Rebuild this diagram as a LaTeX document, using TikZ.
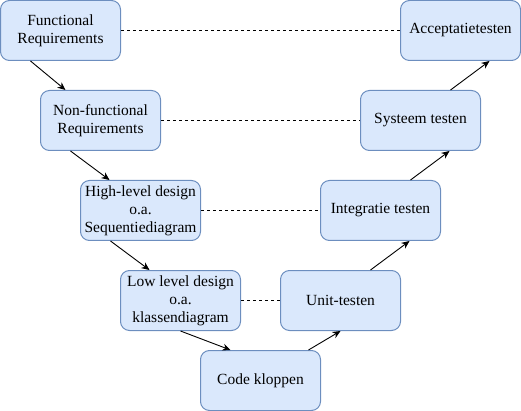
\documentclass[tikz,border=0pt]{standalone}
\usepackage{fontspec}
\setmainfont{Liberation Serif}
\usetikzlibrary{arrows.meta}
\definecolor{boxfill}{HTML}{DAE8FC}
\definecolor{boxline}{HTML}{6C8EBF}
\begin{document}
\begin{tikzpicture}[x=1pt,y=-1pt,
  stagebox/.style={draw=boxline,fill=boxfill,line width=1pt,rounded corners=9pt,
    minimum width=120pt,minimum height=60pt,inner sep=1pt,align=center,
    font=\fontsize{15.5}{18}\selectfont},
  flow/.style={-{Stealth[length=8pt,width=7pt]},line width=0.9pt,black},
  link/.style={dash pattern=on 3pt off 3pt,line width=0.9pt,black}]
\useasboundingbox (0,0) rectangle (521,411);
\node[stagebox] (F) at (60.5,30.5) {Functional\\Requirements};
\node[stagebox] (N) at (100.5,120.5) {Non-functional\\Requirements};
\node[stagebox] (H) at (140.5,210.5) {High-level design\\o.a.\\Sequentiediagram};
\node[stagebox] (L) at (180.5,300.5) {Low level design\\o.a.\\klassendiagram};
\node[stagebox] (C) at (260.5,380.5) {Code kloppen};
\node[stagebox] (U) at (340.5,300.5) {Unit-testen};
\node[stagebox] (I) at (380.5,210.5) {Integratie testen};
\node[stagebox] (S) at (420.5,120.5) {Systeem testen};
\node[stagebox] (A) at (460.5,30.5) {Acceptatietesten};
\draw[link] (F.east) -- (A.west);
\draw[link] (N.east) -- (S.west);
\draw[link] (H.east) -- (I.west);
\draw[link] (L.east) -- (U.west);
\draw[flow] ([xshift=-30pt]F.south) -- ([xshift=-35pt]N.north);
\draw[flow] ([xshift=-30pt]N.south) -- ([xshift=-31pt]H.north);
\draw[flow] ([xshift=-30pt]H.south) -- ([xshift=-31pt]L.north);
\draw[flow] (L.south) -- ([xshift=-30pt]C.north);
\draw[flow] ([xshift=48pt]C.north) -- (U.south);
\draw[flow] ([xshift=30pt]U.north) -- ([xshift=29pt]I.south);
\draw[flow] ([xshift=30pt]I.north) -- ([xshift=29pt]S.south);
\draw[flow] ([xshift=30pt]S.north) -- ([xshift=29pt]A.south);
\end{tikzpicture}
\end{document}
